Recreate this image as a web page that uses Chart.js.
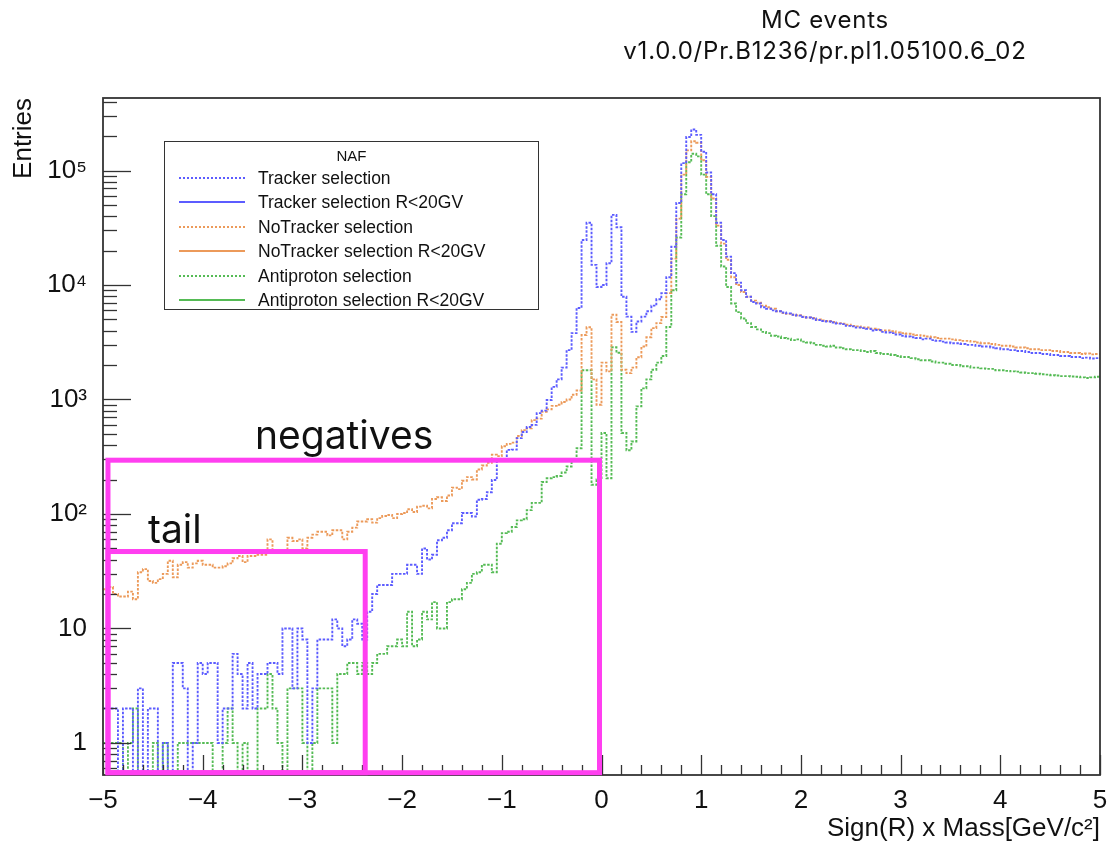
<!DOCTYPE html>
<html>
<head>
<meta charset="utf-8">
<title>MC events</title>
<script src="https://cdn.jsdelivr.net/npm/chart.js@4.4.1/dist/chart.umd.min.js"></script>
<style>
  body { margin: 0; background: #fff; }
  #wrap { position: relative; width: 1110px; height: 842px; }
  #title { position: absolute; left: 575px; top: 4px; width: 500px; text-align: center;
    font-family: Inter, "Noto Sans", sans-serif; font-size: 24px; letter-spacing: 0.8px;
    line-height: 31px; color: #111; }
  #legend { position: absolute; left: 164px; top: 141px; width: 373px; height: 167px;
    border: 1.5px solid #333; background: #fff; font-family: "Liberation Sans", Arial, sans-serif;
    font-size: 17.5px; color: #111; }
  #legend .head { position: absolute; left: 0; width: 100%; top: 5px; text-align: center; font-size: 15px; }
  #legend .row { position: absolute; left: 0; height: 24px; line-height: 24px; white-space: nowrap; }
  #legend .sample { position: absolute; left: 14px; top: 11px; width: 66px; height: 0; }
  #legend .txt { position: absolute; left: 93px; top: 0; }
</style>
</head>
<body>
<div id="wrap">
  <canvas id="chart" width="1110" height="842"></canvas>
  <div id="title">MC events<br>v1.0.0/Pr.B1236/pr.pl1.05100.6_02</div>
  <div id="legend"></div>
</div>
<script>
//binning of the histograms
const binLow = -5;
const binWidth = 0.05;

//axis ranges and tick labels
const xMin = -5;
const xMax = 5;
const xTickLabels = [-5, -4, -3, -2, -1, 0, 1, 2, 3, 4, 5];
const yMin = 0.525;
const yMax = 430000;
const yDecades = [1, 10, 100, 1000, 10000, 100000];

//entries per bin (200 bins from -5 to 5)
const trackerSel = [
  2, 2, 2, 0, 2, 2, 0, 3, 0, 2,
  2, 0, 1, 0, 5, 5, 3, 0, 1, 5,
  4, 5, 5, 1, 2, 2, 6, 4, 2, 5,
  2, 4, 4, 5, 5, 4, 10, 10, 3, 10,
  8, 1, 3, 8, 8, 8, 12, 10, 7, 8,
  12, 11, 8, 14, 20, 24, 24, 24, 30, 30,
  30, 36, 36, 30, 50, 40, 44, 59, 62, 72,
  83, 83, 102, 102, 95, 133, 135, 155, 198, 290,
  300, 363, 365, 460, 520, 575, 600, 760, 800, 990,
  1290, 1500, 1900, 2700, 3800, 6300, 24700, 35000, 15000, 9600,
  10000, 15500, 41000, 32000, 7900, 5300, 3900, 4800, 5300, 5900,
  6600, 7500, 8500, 11700, 21600, 52000, 116000, 196000, 228000, 205000,
  146000, 96000, 62000, 35000, 24700, 17700, 12700, 10500, 9000, 7900,
  7100, 6900, 6400, 6200, 6000, 5900, 5750, 5650, 5500, 5400,
  5250, 5200, 5100, 4950, 4850, 4800, 4700, 4600, 4550, 4400,
  4350, 4250, 4200, 4150, 4000, 4050, 3900, 3850, 3800, 3700,
  3600, 3550, 3500, 3450, 3350, 3400, 3300, 3250, 3200, 3150,
  3100, 3100, 3050, 3000, 3000, 2950, 2900, 2900, 2850, 2800,
  2750, 2750, 2700, 2650, 2650, 2600, 2550, 2550, 2500, 2500,
  2450, 2450, 2400, 2400, 2350, 2350, 2300, 2320, 2280, 2300
];

const noTrackerSel = [
  22, 23, 20, 19, 19, 21, 18, 31, 33, 26,
  25, 27, 30, 39, 28, 36, 38, 34, 37, 39,
  36, 36, 34, 34, 35, 37, 41, 43, 38, 43,
  43, 44, 44, 60, 47, 47, 48, 62, 58, 60,
  50, 62, 66, 70, 70, 65, 72, 72, 60, 70,
  76, 86, 86, 90, 84, 92, 96, 98, 92, 100,
  102, 110, 104, 116, 118, 112, 135, 140, 130, 145,
  170, 165, 195, 210, 200, 245, 265, 280, 330, 320,
  390, 410, 420, 480, 540, 560, 660, 680, 780, 820,
  880, 900, 950, 1000, 1100, 1200, 3660, 4270, 1500, 900,
  2100, 1760, 5500, 4750, 1820, 1700, 1900, 2340, 2900, 3500,
  4200, 4650, 5250, 8500, 17000, 38000, 92000, 150000, 180000, 175000,
  123000, 88000, 57000, 33000, 23000, 16600, 11700, 10000, 8700, 7900,
  7300, 7000, 6600, 6400, 6200, 5900, 5700, 5600, 5500, 5450,
  5300, 5200, 5150, 5000, 4900, 4850, 4750, 4650, 4600, 4500,
  4400, 4350, 4250, 4250, 4150, 4100, 4000, 4000, 3950, 3850,
  3800, 3750, 3700, 3650, 3600, 3550, 3500, 3450, 3400, 3400,
  3350, 3300, 3250, 3250, 3200, 3150, 3100, 3100, 3050, 3000,
  2950, 2950, 2900, 2850, 2850, 2800, 2750, 2750, 2700, 2700,
  2650, 2650, 2600, 2600, 2550, 2550, 2500, 2520, 2480, 2500
];

const antiprotonSel = [
  1, 1, 1, 1, 0, 1, 2, 0, 0, 0,
  1, 0, 1, 0, 0, 1, 1, 1, 1, 1,
  1, 1, 0, 0, 1, 2, 1, 0, 1, 0,
  0, 2, 2, 4, 2, 1, 0, 3, 3, 3,
  1, 0, 1, 3, 3, 3, 1, 4, 4, 5,
  5, 4, 5, 4, 5, 6, 6, 7, 7, 8,
  7, 14, 7, 8, 14, 12, 17, 10, 10, 17,
  18, 18, 22, 25, 30, 31, 36, 36, 31, 55,
  68, 70, 77, 88, 90, 108, 125, 125, 190, 205,
  210, 215, 230, 260, 300, 375, 1800, 1800, 180, 200,
  510, 205, 2860, 2560, 510, 360, 430, 870, 1250, 1500,
  1820, 2100, 2400, 4300, 9000, 26000, 62000, 118000, 140000, 133000,
  92000, 62000, 40000, 22000, 14500, 9600, 6900, 5800, 5100, 4650,
  4300, 4100, 3900, 3800, 3600, 3550, 3450, 3400, 3300, 3350,
  3200, 3150, 3100, 3000, 2950, 2900, 2950, 2850, 2800, 2750,
  2700, 2700, 2650, 2600, 2650, 2550, 2500, 2500, 2450, 2400,
  2350, 2350, 2300, 2250, 2200, 2200, 2150, 2100, 2100, 2050,
  2000, 2000, 1950, 1950, 1900, 1900, 1870, 1850, 1850, 1800,
  1800, 1780, 1760, 1750, 1720, 1700, 1700, 1680, 1660, 1650,
  1630, 1620, 1600, 1600, 1590, 1580, 1560, 1540, 1560, 1580
];

//legend entries (ROOT TLegend "NAF")
const legendTitle = "NAF";
const legendLabels = [
  "Tracker selection", "Tracker selection R<20GV",
  "NoTracker selection", "NoTracker selection R<20GV",
  "Antiproton selection", "Antiproton selection R<20GV"
];

//hand drawn boxes: name, x range and top edge in data units
const boxNames = ["negatives", "tail"];
const boxXFrom = [-4.95, -4.95];
const boxXTo = [-0.02, -2.37];
const boxYTop = [295, 47];
const boxYBottom = 0.55;

//colours
const blue = "#5c5cff";
const orange = "#ec9a5a";
const green = "#55bb55";
const magenta = "#ff3ff0";
const legendColors = [blue, blue, orange, orange, green, green];

//empty bins are drawn below the frame, like ROOT does
const yFloor = 0.1;

const toPoints = (vals) => {
  const pts = vals.map((v, i) => ({ x: +(binLow + i * binWidth).toFixed(3), y: v > 0 ? v : yFloor }));
  //closing edge of the last bin
  pts.push({ x: +(binLow + vals.length * binWidth).toFixed(3), y: pts[pts.length - 1].y });
  return pts;
};

const histo = (label, vals, color) => ({
  label,
  data: toPoints(vals),
  borderColor: color,
  borderWidth: 1.9,
  borderDash: [2.5, 1.5],
  stepped: "before",
  pointRadius: 0,
  fill: false
});

//build the legend box
const legend = document.getElementById("legend");
legend.innerHTML = `<div class="head">${legendTitle}</div>`;
legendLabels.forEach((text, i) => {
  const row = document.createElement("div");
  row.className = "row";
  row.style.top = (24 + i * 24.4) + "px";
  const style = i % 2 === 0 ? "dotted" : "solid";
  row.innerHTML = `<div class="sample" style="border-top:2px ${style} ${legendColors[i]}"></div>` +
    `<div class="txt"></div>`;
  row.querySelector(".txt").textContent = text;
  legend.appendChild(row);
});

const sup = { "2": "\u00b2", "3": "\u00b3", "4": "\u2074", "5": "\u2075" };
const yLabel = (v) => {
  if (v === 1) return "1";
  if (v === 10) return "10";
  return "10" + sup[String(Math.round(Math.log10(v)))];
};

//frame, inward ticks and the magenta boxes
const rootDecor = {
  id: "rootDecor",
  afterDatasetsDraw(chart) {
    const { ctx, chartArea: a, scales: { x, y } } = chart;
    ctx.save();
    ctx.strokeStyle = "#333";
    ctx.lineWidth = 1.3;
    y.ticks.forEach((t) => {
      const py = Math.round(y.getPixelForValue(t.value)) + 0.5;
      ctx.beginPath();
      ctx.moveTo(a.left, py);
      ctx.lineTo(a.left + (t.major ? 28 : 14), py);
      ctx.stroke();
    });
    x.ticks.forEach((t) => {
      const px = Math.round(x.getPixelForValue(t.value)) + 0.5;
      ctx.beginPath();
      ctx.moveTo(px, a.bottom);
      ctx.lineTo(px, a.bottom - (t.major ? 20 : 10));
      ctx.stroke();
    });
    ctx.lineWidth = 1.8;
    ctx.strokeRect(a.left, a.top, a.right - a.left, a.bottom - a.top);

    //boxes
    const labelOffset = [[147, -11], [40, -9]];
    ctx.strokeStyle = magenta;
    ctx.lineWidth = 5;
    ctx.lineJoin = "miter";
    ctx.fillStyle = "#111";
    ctx.font = "39px Inter, 'Noto Sans', sans-serif";
    ctx.textBaseline = "alphabetic";
    boxNames.forEach((name, i) => {
      const x0 = x.getPixelForValue(boxXFrom[i]);
      const x1 = x.getPixelForValue(boxXTo[i]);
      const y0 = y.getPixelForValue(boxYTop[i]);
      const y1 = y.getPixelForValue(boxYBottom);
      ctx.strokeRect(x0, y0, x1 - x0, y1 - y0);
      ctx.fillText(name, x0 + labelOffset[i][0], y0 + labelOffset[i][1]);
    });
    ctx.restore();
  }
};

const tickFont = { family: "'Liberation Sans', Arial, sans-serif", size: 26 };

new Chart(document.getElementById("chart"), {
  type: "line",
  data: {
    datasets: [
      histo(legendLabels[0], trackerSel, blue),
      histo(legendLabels[2], noTrackerSel, orange),
      histo(legendLabels[4], antiprotonSel, green)
    ]
  },
  options: {
    responsive: false,
    devicePixelRatio: 1,
    animation: false,
    layout: { padding: { top: 98, right: 10, bottom: 0, left: 0 } },
    plugins: { legend: { display: false }, tooltip: { enabled: false } },
    scales: {
      x: {
        type: "linear",
        min: xMin,
        max: xMax,
        grid: { display: false },
        border: { display: false },
        afterBuildTicks: (scale) => {
          const ticks = [];
          for (let k = 0; k <= (xMax - xMin) * 5; k++) {
            const v = +(xMin + k * 0.2).toFixed(3);
            ticks.push({ value: v, major: xTickLabels.includes(v) });
          }
          scale.ticks = ticks;
        },
        afterFit: (scale) => { scale.height = 67; },
        ticks: {
          autoSkip: false,
          maxRotation: 0,
          padding: 2,
          color: "#111",
          font: tickFont,
          callback: (v) => xTickLabels.includes(v) ? (v < 0 ? "\u2212" + Math.abs(v) : String(v)) : ""
        },
        title: {
          display: true,
          text: "Sign(R) x Mass[GeV/c\u00b2]",
          align: "end",
          color: "#111",
          font: { family: "'Liberation Sans', Arial, sans-serif", size: 26, lineHeight: 1 },
          padding: { top: 0, bottom: 0 }
        }
      },
      y: {
        type: "logarithmic",
        min: yMin,
        max: yMax,
        grid: { display: false },
        border: { display: false },
        afterBuildTicks: (scale) => {
          const ticks = [];
          [0.1].concat(yDecades).forEach((d) => {
            for (let m = 1; m <= 9; m++) {
              const v = +(m * d).toPrecision(3);
              if (v >= yMin && v <= yMax) ticks.push({ value: v, major: m === 1 });
            }
          });
          scale.ticks = ticks;
        },
        afterFit: (scale) => { scale.width = 103; },
        ticks: {
          autoSkip: false,
          padding: 8,
          color: "#111",
          font: tickFont,
          callback: (v) => yDecades.includes(v) ? yLabel(v) : ""
        },
        title: {
          display: true,
          text: "Entries",
          align: "end",
          color: "#111",
          font: { family: "'Liberation Sans', Arial, sans-serif", size: 26, lineHeight: 1 },
          padding: { top: 11, bottom: 0 }
        }
      }
    }
  },
  plugins: [rootDecor]
});
</script>
</body>
</html>
